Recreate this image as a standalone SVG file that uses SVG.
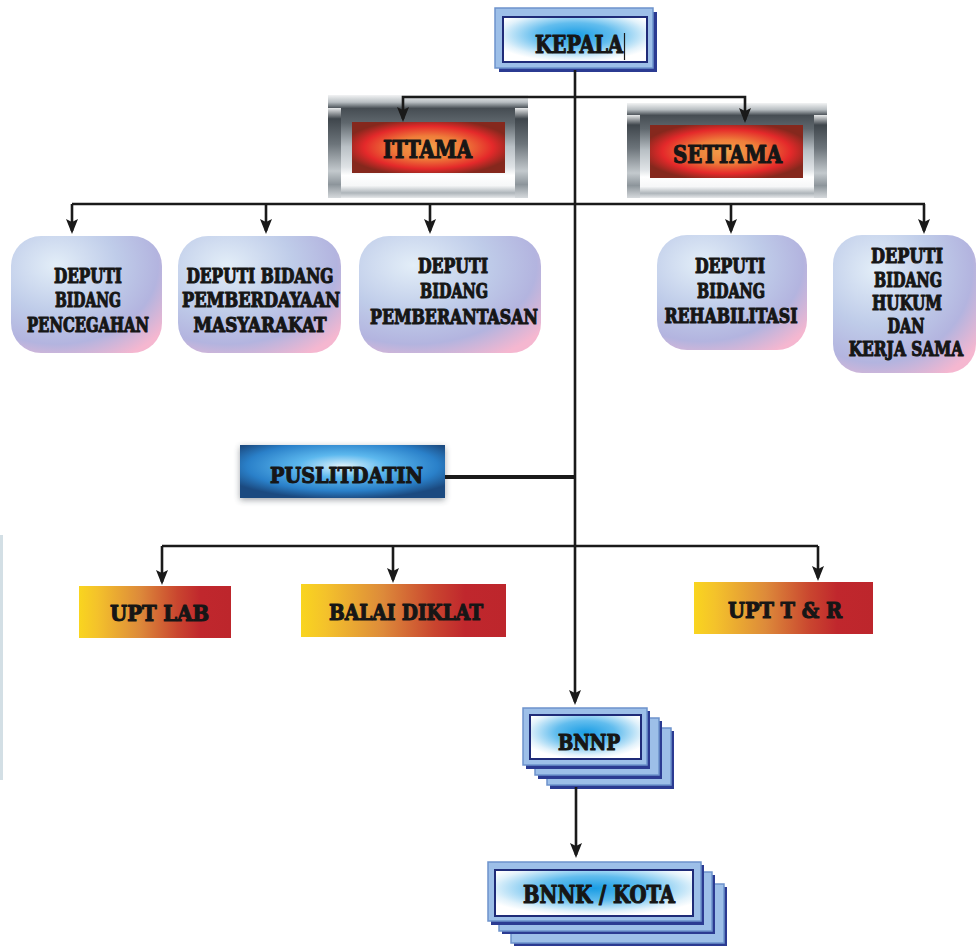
<svg xmlns="http://www.w3.org/2000/svg" width="976" height="947" viewBox="0 0 976 947">
<defs>
<style>
.t{font-family:"DejaVu Serif Condensed","DejaVu Serif","Liberation Serif",serif;font-weight:bold;fill:#161616;stroke:#161616;stroke-width:1.1;stroke-linejoin:round;text-anchor:middle}
.ln{fill:none;stroke:#1a1a1a;stroke-width:2.6}
.ar{marker-end:url(#arr)}
.outer{fill:#9dbfe8;stroke:#6d93cc;stroke-width:1.5}
.shade{fill:#2b3b92}
.inner{fill:url(#blueIn);stroke:#1f2b78;stroke-width:2}
.dep{fill:url(#depG)}
.upt{fill:url(#uptG)}
.red{fill:url(#redG)}
</style>
<marker id="arr" markerUnits="userSpaceOnUse" markerWidth="16" markerHeight="14" viewBox="0 0 16 14" refX="12" refY="6" orient="auto">
<path d="M0,0 L15,6 L0,12 L3,6 z" fill="#1a1a1a"/>
</marker>
<radialGradient id="blueIn" cx="50%" cy="40%" r="60%">
<stop offset="0" stop-color="#1a9de4"/>
<stop offset="0.45" stop-color="#62bdee"/>
<stop offset="0.85" stop-color="#e2f2fb"/>
<stop offset="1" stop-color="#ffffff"/>
</radialGradient>
<radialGradient id="pusG" cx="50%" cy="40%" r="62%">
<stop offset="0" stop-color="#dff2fc"/>
<stop offset="0.35" stop-color="#5cb8ee"/>
<stop offset="0.75" stop-color="#2a80c9"/>
<stop offset="1" stop-color="#1b4a80"/>
</radialGradient>
<radialGradient id="depG" cx="30%" cy="25%" r="90%">
<stop offset="0" stop-color="#e3eef8"/>
<stop offset="0.45" stop-color="#bfcce9"/>
<stop offset="0.75" stop-color="#b3b4df"/>
<stop offset="1" stop-color="#f5b7d0"/>
</radialGradient>
<linearGradient id="uptG" x1="0" y1="0" x2="1" y2="0">
<stop offset="0" stop-color="#f9d51f"/>
<stop offset="0.12" stop-color="#f4c22b"/>
<stop offset="0.4" stop-color="#dd8a3a"/>
<stop offset="0.65" stop-color="#c9452f"/>
<stop offset="0.8" stop-color="#c0272d"/>
<stop offset="1" stop-color="#bd262c"/>
</linearGradient>
<radialGradient id="redG" cx="50%" cy="50%" r="56%">
<stop offset="0" stop-color="#f4a04a"/>
<stop offset="0.4" stop-color="#ef7d3a"/>
<stop offset="0.75" stop-color="#e4292a"/>
<stop offset="1" stop-color="#85281d"/>
</radialGradient>
<linearGradient id="metalV" x1="0" y1="0" x2="0" y2="1">
<stop offset="0" stop-color="#f2f3f4"/>
<stop offset="0.07" stop-color="#b8bec2"/>
<stop offset="0.13" stop-color="#464d53"/>
<stop offset="0.27" stop-color="#5f676d"/>
<stop offset="0.5" stop-color="#b9c0c5"/>
<stop offset="0.7" stop-color="#dfe3e6"/>
<stop offset="0.78" stop-color="#ffffff"/>
<stop offset="0.88" stop-color="#f6f7f8"/>
<stop offset="0.95" stop-color="#aeb5ba"/>
<stop offset="1" stop-color="#e6e8ea"/>
</linearGradient>
<linearGradient id="metalH" x1="0" y1="0" x2="0" y2="1">
<stop offset="0" stop-color="#e9ebec"/>
<stop offset="0.12" stop-color="#3f464c"/>
<stop offset="0.4" stop-color="#6c747a"/>
<stop offset="0.7" stop-color="#c3c9cd"/>
<stop offset="0.85" stop-color="#8d959b"/>
<stop offset="1" stop-color="#d5d9dc"/>
</linearGradient>
<filter id="soft" x="-10%" y="-20%" width="120%" height="140%">
<feGaussianBlur stdDeviation="3"/>
</filter>
</defs>

<rect x="0" y="0" width="976" height="947" fill="#ffffff"/>
<rect x="0" y="535" width="3" height="245" fill="#d3dfe5"/>

<g id="kepala">
<rect class="shade" x="499" y="12" width="158" height="60"/>
<rect class="outer" x="495" y="8" width="158" height="60"/>
<rect class="inner" x="503" y="17" width="144" height="45"/>
<text class="t" x="579" y="53" font-size="25" textLength="88" lengthAdjust="spacingAndGlyphs">KEPALA</text>
<line x1="624.5" y1="33" x2="624.5" y2="60" stroke="#1a1a1a" stroke-width="1.2"/>
</g>

<g id="ittama">
<rect x="328" y="95" width="200" height="103" fill="url(#metalV)"/>
<rect x="328" y="108" width="13" height="90" fill="url(#metalH)"/>
<rect x="515" y="108" width="13" height="90" fill="url(#metalH)"/>
<rect class="red" x="352" y="122" width="153" height="51"/>
<text class="t" x="427.5" y="158" font-size="24" textLength="89" lengthAdjust="spacingAndGlyphs">ITTAMA</text>
</g>

<g id="settama">
<rect x="627" y="103" width="200" height="95" fill="url(#metalV)"/>
<rect x="627" y="115" width="13" height="83" fill="url(#metalH)"/>
<rect x="814" y="115" width="13" height="83" fill="url(#metalH)"/>
<rect class="red" x="650" y="125" width="153" height="53"/>
<text class="t" x="727.5" y="163" font-size="24" textLength="109" lengthAdjust="spacingAndGlyphs">SETTAMA</text>
</g>

<g id="deputi-pencegahan">
<rect class="dep" x="11" y="236" width="151" height="117" rx="30"/>
<text class="t" x="88" y="283" font-size="21" textLength="68" lengthAdjust="spacingAndGlyphs">DEPUTI</text>
<text class="t" x="88" y="307" font-size="21" textLength="66" lengthAdjust="spacingAndGlyphs">BIDANG</text>
<text class="t" x="88" y="332" font-size="21" textLength="122" lengthAdjust="spacingAndGlyphs">PENCEGAHAN</text>
</g>

<g id="deputi-pemberdayaan">
<rect class="dep" x="178" y="236" width="163" height="117" rx="30"/>
<text class="t" x="260" y="283" font-size="21" textLength="147" lengthAdjust="spacingAndGlyphs">DEPUTI BIDANG</text>
<text class="t" x="261" y="307" font-size="21" textLength="158" lengthAdjust="spacingAndGlyphs">PEMBERDAYAAN</text>
<text class="t" x="260" y="332" font-size="21" textLength="133" lengthAdjust="spacingAndGlyphs">MASYARAKAT</text>
</g>

<g id="deputi-pemberantasan">
<rect class="dep" x="359" y="236" width="182" height="117" rx="30"/>
<text class="t" x="453" y="273" font-size="21" textLength="70" lengthAdjust="spacingAndGlyphs">DEPUTI</text>
<text class="t" x="454" y="298" font-size="21" textLength="68" lengthAdjust="spacingAndGlyphs">BIDANG</text>
<text class="t" x="454" y="324" font-size="21" textLength="168" lengthAdjust="spacingAndGlyphs">PEMBERANTASAN</text>
</g>

<g id="deputi-rehabilitasi">
<rect class="dep" x="657" y="235" width="150" height="115" rx="30"/>
<text class="t" x="730" y="273" font-size="21" textLength="70" lengthAdjust="spacingAndGlyphs">DEPUTI</text>
<text class="t" x="731" y="298" font-size="21" textLength="68" lengthAdjust="spacingAndGlyphs">BIDANG</text>
<text class="t" x="731" y="323" font-size="21" textLength="133" lengthAdjust="spacingAndGlyphs">REHABILITASI</text>
</g>

<g id="deputi-hukum">
<rect class="dep" x="833" y="235" width="143" height="138" rx="29"/>
<text class="t" x="907" y="263" font-size="21" textLength="72" lengthAdjust="spacingAndGlyphs">DEPUTI</text>
<text class="t" x="908" y="287" font-size="21" textLength="68" lengthAdjust="spacingAndGlyphs">BIDANG</text>
<text class="t" x="907" y="310" font-size="21" textLength="70" lengthAdjust="spacingAndGlyphs">HUKUM</text>
<text class="t" x="906" y="333" font-size="21" textLength="37" lengthAdjust="spacingAndGlyphs">DAN</text>
<text class="t" transform="translate(906,356) scale(0.78,1)" x="0" y="0" font-size="21" textLength="147" lengthAdjust="spacingAndGlyphs">KERJA SAMA</text>
</g>

<g id="puslitdatin">
<rect x="240" y="447" width="205" height="53" fill="#2a3440" opacity="0.45" filter="url(#soft)"/>
<rect x="240" y="445" width="205" height="53" fill="url(#pusG)"/>
<text class="t" x="346.5" y="483" font-size="23" textLength="153" lengthAdjust="spacingAndGlyphs">PUSLITDATIN</text>
</g>

<g id="upt-lab">
<rect class="upt" x="79" y="586" width="152" height="52"/>
<text class="t" x="159.5" y="621" font-size="23" textLength="99" lengthAdjust="spacingAndGlyphs">UPT LAB</text>
</g>

<g id="balai-diklat">
<rect class="upt" x="301" y="584" width="205" height="53"/>
<text class="t" x="406" y="620" font-size="23" textLength="154" lengthAdjust="spacingAndGlyphs">BALAI DIKLAT</text>
</g>

<g id="upt-tr">
<rect class="upt" x="694" y="582" width="179" height="52"/>
<text class="t" x="785" y="618" font-size="23" textLength="114" lengthAdjust="spacingAndGlyphs">UPT T &amp; R</text>
</g>

<g id="bnnp">
<rect class="shade" x="550" y="731" width="124" height="58"/>
<rect class="outer" x="547" y="728" width="124" height="57"/>
<rect class="shade" x="538" y="721" width="124" height="58"/>
<rect class="outer" x="535" y="718" width="124" height="57"/>
<rect class="shade" x="526" y="711" width="124" height="58"/>
<rect class="outer" x="523" y="708" width="124" height="57"/>
<rect class="inner" x="530" y="715" width="111" height="44"/>
<text class="t" x="589" y="750" font-size="22" textLength="62" lengthAdjust="spacingAndGlyphs">BNNP</text>
</g>

<g id="bnnk-kota">
<rect class="shade" x="514" y="887" width="213" height="59"/>
<rect class="outer" x="511" y="884" width="213" height="59"/>
<rect class="shade" x="502" y="875" width="213" height="59"/>
<rect class="outer" x="499" y="872" width="213" height="59"/>
<rect class="shade" x="491" y="865" width="213" height="60"/>
<rect class="outer" x="488" y="862" width="213" height="59"/>
<rect class="inner" x="495" y="870" width="198" height="46"/>
<text class="t" x="599" y="903" font-size="24" textLength="152" lengthAdjust="spacingAndGlyphs">BNNK / KOTA</text>
</g>

<g id="connectors">
<path class="ln ar" d="M575,70 V702"/>
<path class="ln ar" d="M575,97 H403 V119"/>
<path class="ln ar" d="M575,97 H745 V120"/>
<path class="ln" d="M72,204 H925"/>
<path class="ln ar" d="M72,204 V231"/>
<path class="ln ar" d="M266,204 V231"/>
<path class="ln ar" d="M430,204 V231"/>
<path class="ln ar" d="M731,204 V231"/>
<path class="ln ar" d="M924,204 V231"/>
<path class="ln" d="M445,477 H575" style="stroke-width:4"/>
<path class="ln" d="M162,546 H818"/>
<path class="ln ar" d="M162,546 V582"/>
<path class="ln ar" d="M393,546 V580"/>
<path class="ln ar" d="M818,546 V578"/>
<path class="ln ar" d="M576,787 V855"/>
</g>
</svg>
